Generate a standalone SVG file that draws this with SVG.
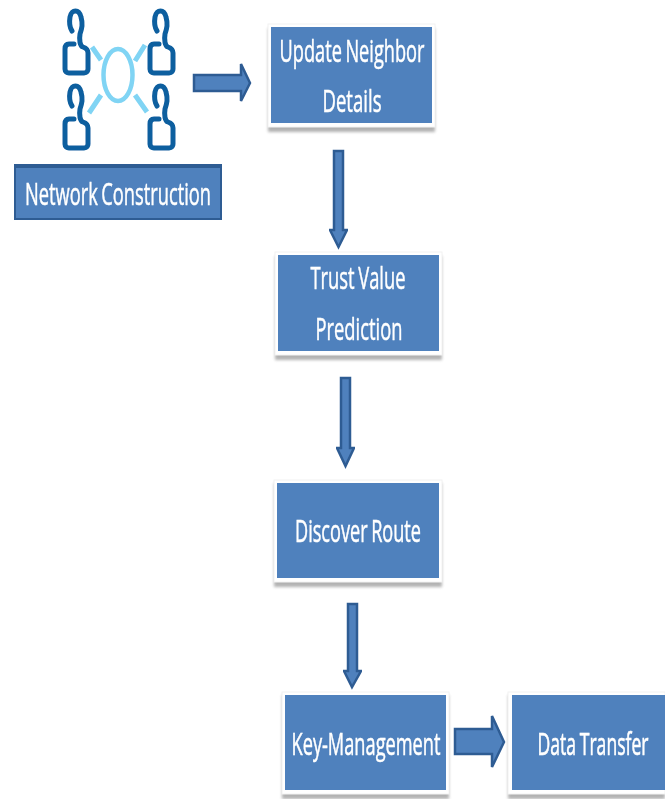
<svg xmlns="http://www.w3.org/2000/svg" width="665" height="799" viewBox="0 0 665 799">
<defs>
<filter id="soft" x="-5%" y="-10%" width="110%" height="120%"><feGaussianBlur stdDeviation="0.6"/></filter>
<filter id="shadow" x="-10%" y="-10%" width="120%" height="125%"><feGaussianBlur stdDeviation="1.5"/></filter>
<path id="person" d="M74,44 H69 C66,44 65,46 65,49 V69 C65,72 67,73 69,73 H84 C87,73 88,71 88,69 V53 C88,50 86,48 83,47 C80,46 79,40 80,34 C82,28 83,24 81,17 C80,13 78,11 75.500,11 C72,11 71,13 70,17 C69,23 70,28 72,31" fill="none" stroke="#115e9f" stroke-width="5" stroke-linecap="round"/>
</defs>
<style>
.box{fill:#4f81bd}
.edge{fill:#fff;stroke:#f2f2f2;stroke-width:1}
.shade{fill:#8a8a8a;opacity:.65;filter:url(#shadow)}
.label{font-family:"Open Sans","Liberation Sans",sans-serif;fill:#fff;stroke:#fff;stroke-width:.5px;font-size:31px;word-spacing:-2px;text-anchor:middle;filter:url(#soft)}
.plain{font-family:"Open Sans","Liberation Sans",sans-serif;fill:#fff;stroke:#fff;stroke-width:.4px;font-size:20px;word-spacing:-1px;text-anchor:middle}
.arrow{fill:#4f81bd;stroke:#2f5c93;stroke-width:2.500;stroke-linejoin:miter;filter:url(#soft)}
.link{stroke:#80d4f4;stroke-width:5;fill:none}
</style>
<rect width="665" height="799" fill="#fff"/>
<g id="connectors">
<path class="arrow" d="M194,75 H241 V64 L250,83 L241,101 V91 H194 Z"/>
<path class="arrow" d="M334,151 H343 V230 H347 L338.500,247 L330,230 H334 Z"/>
<path class="arrow" d="M341,378 H350 V448 H354 L345.500,466 L337,448 H341 Z"/>
<path class="arrow" d="M348,604 H357 V671 H361 L352,687 L344,671 H348 Z"/>
<path class="arrow" d="M455,729 H492 V716 L504,742 L492,767 V754 H455 Z"/>
</g>
<g id="network-icon" filter="url(#soft)">
<ellipse cx="118" cy="75" rx="14.500" ry="26" fill="none" stroke="#80d4f4" stroke-width="4.500"/>
<path class="link" d="M92,47 L101,60 M145,45 L135,61 M101,95 L89,113 M135,95 L147,112"/>
<use href="#person"/>
<use href="#person" transform="translate(85,0)"/>
<use href="#person" transform="translate(0,75)"/>
<use href="#person" transform="translate(85,75)"/>
</g>
<g id="network-construction">
<rect x="14" y="164" width="208" height="56" fill="#2f5c93" filter="url(#soft)"/>
<rect class="box" x="16" y="168" width="204" height="50"/>
<text class="label" x="118" y="205" textLength="186" lengthAdjust="spacingAndGlyphs">Network Construction</text>
</g>
<g id="update-neighbor-details">
<rect class="shade" x="268" y="28" width="167" height="104"/>
<rect class="edge" x="268" y="24" width="167" height="103"/>
<rect class="box" x="271" y="27" width="161" height="96"/>
<text class="label" x="352" y="62" textLength="145" lengthAdjust="spacingAndGlyphs">Update Neighbor</text>
<text class="label" x="352" y="112" textLength="59" lengthAdjust="spacingAndGlyphs">Details</text>
</g>
<g id="trust-value-prediction">
<rect class="shade" x="275" y="256" width="167" height="104"/>
<rect class="edge" x="275" y="252" width="167" height="103"/>
<rect class="box" x="278" y="255" width="161" height="96"/>
<text class="label" x="358" y="289" textLength="95" lengthAdjust="spacingAndGlyphs">Trust Value</text>
<text class="label" x="359" y="340" textLength="87" lengthAdjust="spacingAndGlyphs">Prediction</text>
</g>
<g id="discover-route">
<rect class="shade" x="274" y="483" width="168" height="104"/>
<rect class="edge" x="274" y="480" width="168" height="102"/>
<rect class="box" x="277" y="483" width="162" height="95"/>
<text class="label" x="358" y="542" textLength="126" lengthAdjust="spacingAndGlyphs">Discover Route</text>
</g>
<g id="key-management">
<rect class="shade" x="282" y="695" width="167" height="104"/>
<rect class="edge" x="282" y="692" width="167" height="102"/>
<rect class="box" x="285" y="695" width="161" height="95"/>
<text class="label" x="366" y="755" textLength="149" lengthAdjust="spacingAndGlyphs">Key-Management</text>
</g>
<g id="data-transfer">
<rect class="shade" x="508" y="695" width="157" height="104"/>
<rect class="edge" x="508" y="692" width="157" height="102"/>
<rect class="box" x="512" y="695" width="153" height="95"/>
<g filter="url(#soft)"><text class="plain" transform="translate(593,755) scale(1,1.55)" textLength="111" lengthAdjust="spacingAndGlyphs">Data Transfer</text></g>
</g>
</svg>
